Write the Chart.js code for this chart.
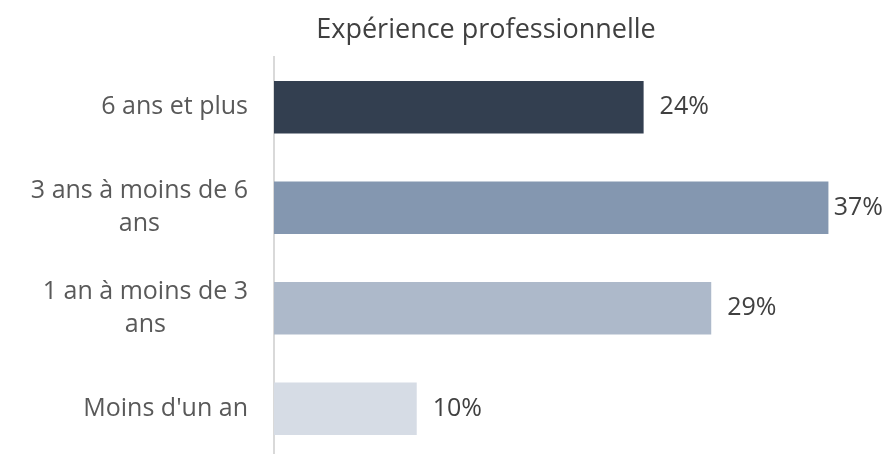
<!DOCTYPE html>
<html lang="fr">
<head>
  <meta charset="UTF-8">
  <title>Expérience professionnelle</title>
  <script src="https://cdn.jsdelivr.net/npm/chart.js"></script>
  <style>
    html, body {
      margin: 0;
      padding: 0;
      background: #ffffff;
      overflow: hidden;
    }
    #wrap {
      position: relative;
      width: 887px;
      height: 460px;
    }
  </style>
</head>
<body>
  <div id="wrap"><canvas id="expChart"></canvas></div>

  <script>
    // data
    const chartTitle = 'Expérience professionnelle';
    const categories = [
      ['6 ans et plus'],
      ['3 ans à moins de 6', 'ans'],
      ['1 an à moins de 3', 'ans'],
      ["Moins d'un an"]
    ];
    const shares = [0.246, 0.369, 0.291, 0.095];
    const valueLabels = ['24%', '37%', '29%', '10%'];
    const barColors = ['#333F50', '#8497B0', '#ADB9CA', '#D6DCE5'];

    const fontFamily = '"Open Sans", sans-serif';
    const fontSize = 25;
    const titleSize = 27;

    // draws title, category labels (lines centred in a right-aligned block) and value labels
    const textPlugin = {
      id: 'texts',
      afterDraw(chart) {
        const ctx = chart.ctx;
        const yScale = chart.scales.y;
        const meta = chart.getDatasetMeta(0);
        ctx.save();
        ctx.textBaseline = 'middle';

        // title
        ctx.font = titleSize + 'px ' + fontFamily;
        ctx.fillStyle = '#404040';
        ctx.textAlign = 'center';
        ctx.fillText(chartTitle, 486, 30);

        // category labels
        ctx.font = fontSize + 'px ' + fontFamily;
        ctx.fillStyle = '#595959';
        const lineH = 33;
        categories.forEach((lines, i) => {
          const yc = yScale.getPixelForValue(i);
          const w = Math.max(...lines.map(l => ctx.measureText(l).width));
          const right = yScale.right - 26;
          const cx = right - w / 2;
          const top = yc - (lines.length - 1) * lineH / 2;
          lines.forEach((l, j) => {
            ctx.textAlign = lines.length > 1 ? 'center' : 'right';
            ctx.fillText(l, lines.length > 1 ? cx : right, top + j * lineH);
          });
        });

        // value labels, pulled back if they would run off the canvas
        ctx.fillStyle = '#404040';
        ctx.textAlign = 'left';
        meta.data.forEach((bar, i) => {
          const txt = valueLabels[i];
          const tw = ctx.measureText(txt).width;
          const x = Math.min(bar.x + 16, chart.width - tw - 4);
          ctx.fillText(txt, x, bar.y);
        });
        ctx.restore();
      }
    };

    new Chart(document.getElementById('expChart'), {
      type: 'bar',
      data: {
        labels: categories,
        datasets: [{
          data: shares,
          backgroundColor: barColors,
          borderWidth: 0,
          categoryPercentage: 1,
          barPercentage: 0.52
        }]
      },
      options: {
        indexAxis: 'y',
        responsive: true,
        maintainAspectRatio: false,
        animation: false,
        layout: {
          padding: { top: 57, right: 12, bottom: 1, left: 0 }
        },
        plugins: {
          legend: { display: false },
          title: { display: false },
          tooltip: { enabled: false }
        },
        scales: {
          x: {
            display: false,
            min: 0,
            max: 0.4
          },
          y: {
            grid: { display: false },
            border: { display: true, color: '#D9D9D9', width: 2 },
            ticks: { display: false },
            afterFit(scale) { scale.width = 274; }
          }
        }
      },
      plugins: [textPlugin]
    });
  </script>
</body>
</html>
